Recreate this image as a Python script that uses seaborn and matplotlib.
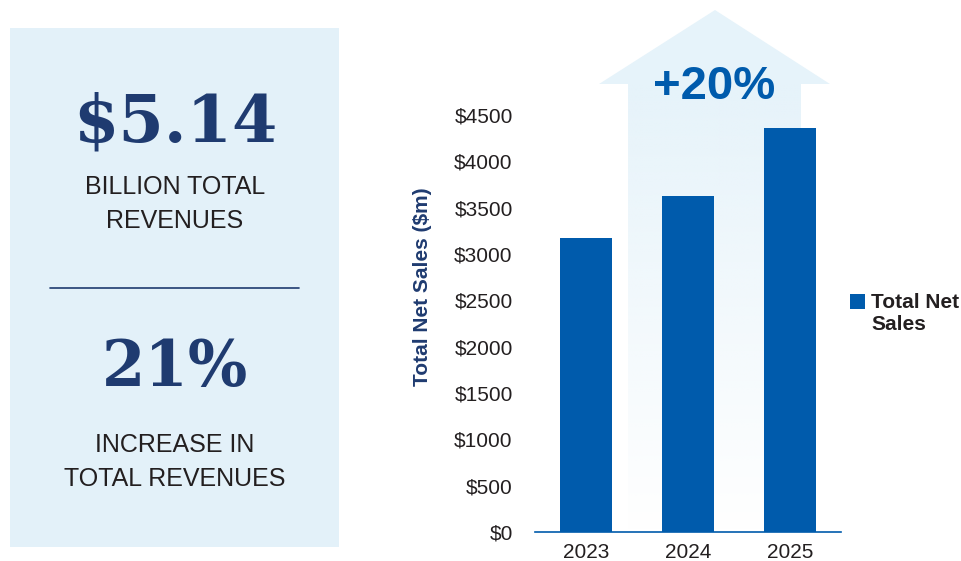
import numpy as np
import matplotlib
matplotlib.use("Agg")
import matplotlib.pyplot as plt
import seaborn as sns
from matplotlib.patches import Rectangle, Polygon
from matplotlib.container import BarContainer
from matplotlib.legend_handler import HandlerPatch

# chart data
years = ["2023", "2024", "2025"]
net_sales = [3172, 3626, 4356]
y_ticks = [0, 500, 1000, 1500, 2000, 2500, 3000, 3500, 4000, 4500]
growth_label = "+20%"

# key figures on the left panel
headline_value = "$5.14"
headline_text = "BILLION TOTAL\nREVENUES"
increase_value = "21%"
increase_text = "INCREASE IN\nTOTAL REVENUES"

BAR_BLUE = "#005BAC"
NAVY = "#1F3B70"
PANEL = "#E3F1F9"
ARROW = "#E6F3FA"
DARK = "#231F20"

sns.set_theme(style="white")
plt.rcParams['font.family'] = ['Liberation Sans', 'DejaVu Sans']

W, H = 961, 561
fig = plt.figure(figsize=(W / 100, H / 100), dpi=100)

# background layer in pixel coordinates
bg = fig.add_axes([0, 0, 1, 1], zorder=0)
bg.axis("off")

# left info panel
bg.add_patch(Rectangle((10, 28), 329, 519, color=PANEL, lw=0))
bg.plot([50, 299], [288, 288], color=NAVY, lw=1.2)
bg.text(175, 123, headline_value, ha="center", va="center", fontsize=47,
        fontweight="bold", color=NAVY, family="DejaVu Serif")
bg.text(175, 204, headline_text, ha="center", va="center", fontsize=18,
        color=DARK, linespacing=1.5)
bg.text(175, 368, increase_value, ha="center", va="center", fontsize=45,
        fontweight="bold", color=NAVY, family="DejaVu Serif")
bg.text(175, 462, increase_text, ha="center", va="center", fontsize=18,
        color=DARK, linespacing=1.5)

# growth arrow: head plus fading shaft
bg.add_patch(Polygon([(599, 84), (715, 10), (830, 84)], closed=True,
                     color=ARROW, lw=0))
rgb = matplotlib.colors.to_rgb(ARROW)
grad = np.ones((256, 1, 4))
grad[:, 0, :3] = rgb
grad[:, 0, 3] = np.linspace(1, 0, 256)
bg.imshow(grad, extent=(628, 801, 532, 84), aspect="auto", interpolation="bilinear")
bg.set_xlim(0, W)
bg.set_ylim(H, 0)
bg.text(714, 87, growth_label, ha="center", va="center", fontsize=34,
        fontweight="bold", color=BAR_BLUE)

# bar chart
ax = fig.add_axes([535 / W, (H - 532) / H, 306 / W, (532 - 115) / H], zorder=1)
ax.patch.set_alpha(0)
sns.barplot(x=years, y=net_sales, color=BAR_BLUE, width=0.51, saturation=1,
            linewidth=0, label="Total Net\nSales", ax=ax)
ax.set_xlim(-0.5, 2.5)
ax.set_ylim(0, 4500)
ax.set_yticks(y_ticks)
ax.set_yticklabels([f"${v}" for v in y_ticks])
ax.tick_params(axis="both", length=0, labelsize=15, labelcolor=DARK)
ax.tick_params(axis="y", pad=16)
ax.tick_params(axis="x", pad=8)
sns.despine(ax=ax, left=True)
ax.spines["bottom"].set_color(BAR_BLUE)
ax.spines["bottom"].set_linewidth(1.2)
ax.set_ylabel("Total Net Sales ($m)", fontsize=15, fontweight="bold",
              color=NAVY)
# label sits a bit above the axes centre, as in the reference
ax.yaxis.set_label_coords((432 - 535) / 306, (532 - 287) / 417)


# legend square lines up with the first text line
def top_square(legend, orig_handle, xdescent, ydescent, width, height, fontsize):
    return Rectangle((-xdescent, -ydescent + 0.6 * fontsize), width, height)


def first_bar(legend_handle, orig_handle):
    legend_handle.update_from(orig_handle.patches[0])


ax.legend(loc="upper left", bbox_to_anchor=(850 / W, 1 - 293 / H),
          bbox_transform=fig.transFigure, frameon=False, handlelength=0.72,
          handleheight=0.72, handletextpad=0.3, borderpad=0, borderaxespad=0,
          prop={"size": 15, "weight": "bold"}, labelcolor=DARK,
          handler_map={BarContainer: HandlerPatch(patch_func=top_square,
                                                  update_func=first_bar)})

fig.savefig("out.png", dpi=100, facecolor="white")
